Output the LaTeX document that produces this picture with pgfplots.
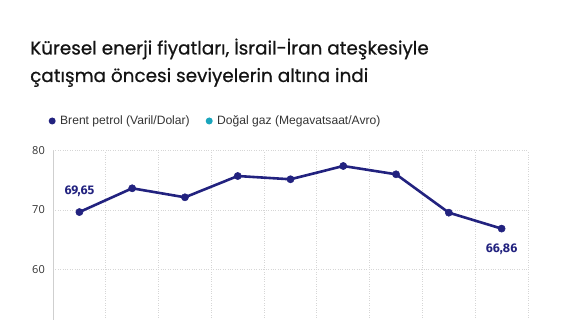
\documentclass[border=0pt]{standalone}
\usepackage{fontspec}
\setmainfont{Liberation Sans}
\newfontfamily\titlefont[FakeBold=0.6]{Poppins}
\newfontfamily\tickfont{Open Sans}
\newfontfamily\labelfont{Fira Sans}
\usepackage{pgfplots}
\pgfplotsset{compat=1.18}
\definecolor{navy}{HTML}{22227F}
\definecolor{teal2}{HTML}{1AA5BC}
\definecolor{gridc}{HTML}{D6D6D6}
\definecolor{axc}{HTML}{CFCFCF}
\definecolor{tickc}{HTML}{333333}
\begin{document}
\begin{tikzpicture}
\path[use as bounding box] (0,0) rectangle (568bp,320bp);
\node[anchor=base west, inner sep=0pt, text=black!92, font=\titlefont\fontsize{18.4bp}{22bp}\selectfont] at (30bp,265.5bp) {Küresel enerji fiyatları, İsrail-İran ateşkesiyle};
\node[anchor=base west, inner sep=0pt, text=black!92, font=\titlefont\fontsize{18.4bp}{22bp}\selectfont] at (30bp,238bp) {çatışma öncesi seviyelerin altına indi};
\begin{axis}[
  at={(53bp,0bp)}, anchor=south west, scale only axis,
  width=475bp, height=169.3bp,
  xmin=-0.5, xmax=8.5, ymin=51.45, ymax=80,
  xtick={-0.5,0.5,...,8.5},
  xticklabels={{},{},{},{},{},{},{},{},{},{}},
  xticklabel style={inner sep=0pt, anchor=south, yshift=12bp},
  ytick={60,70,80},
  axis lines*=left,
  x axis line style={draw=none},
  y axis line style={draw=axc, line width=0.8bp},
  grid=major,
  major grid style={gridc, dotted, line width=0.9bp},
  major tick length=0pt,
  /pgf/number format/assume math mode=true,
  yticklabel style={font=\tickfont\fontsize{11bp}{13bp}\selectfont, text=tickc, inner sep=0pt, xshift=-8bp},
  legend columns=2,
  legend style={at={(-0.0095,1.1755)}, anchor=west, draw=none, fill=none, inner sep=0pt,
    font=\fontsize{12.1bp}{13bp}\selectfont, text=tickc,
    /tikz/every even column/.append style={column sep=14bp}},
  legend cell align=left,
  legend image code/.code={\path[draw=none, fill=none] (0bp,-3bp) rectangle (9.5bp,3bp); \fill[draw=none] (3.5bp,0bp) circle (3.5bp);},
  clip=false,
]
\addplot[navy, line width=2.6bp, mark=*, mark size=3.6bp, mark options={fill=navy, line width=0.5bp}] table {
x y
0 69.65
1 73.66
2 72.14
3 75.73
4 75.18
5 77.42
6 76.02
7 69.55
8 66.86
};
\addlegendentry{Brent petrol (Varil/Dolar)}
\addlegendimage{teal2}
\addlegendentry{Doğal gaz (Megavatsaat/Avro)}
\node[anchor=base, yshift=18bp, text=navy, font=\labelfont\bfseries\fontsize{12.5bp}{14bp}\selectfont] at (axis cs:0,69.65) {69,65};
\node[anchor=base, yshift=-23.7bp, text=navy, font=\labelfont\bfseries\fontsize{12.5bp}{14bp}\selectfont] at (axis cs:8,66.86) {66,86};
\end{axis}
\end{tikzpicture}
\end{document}
